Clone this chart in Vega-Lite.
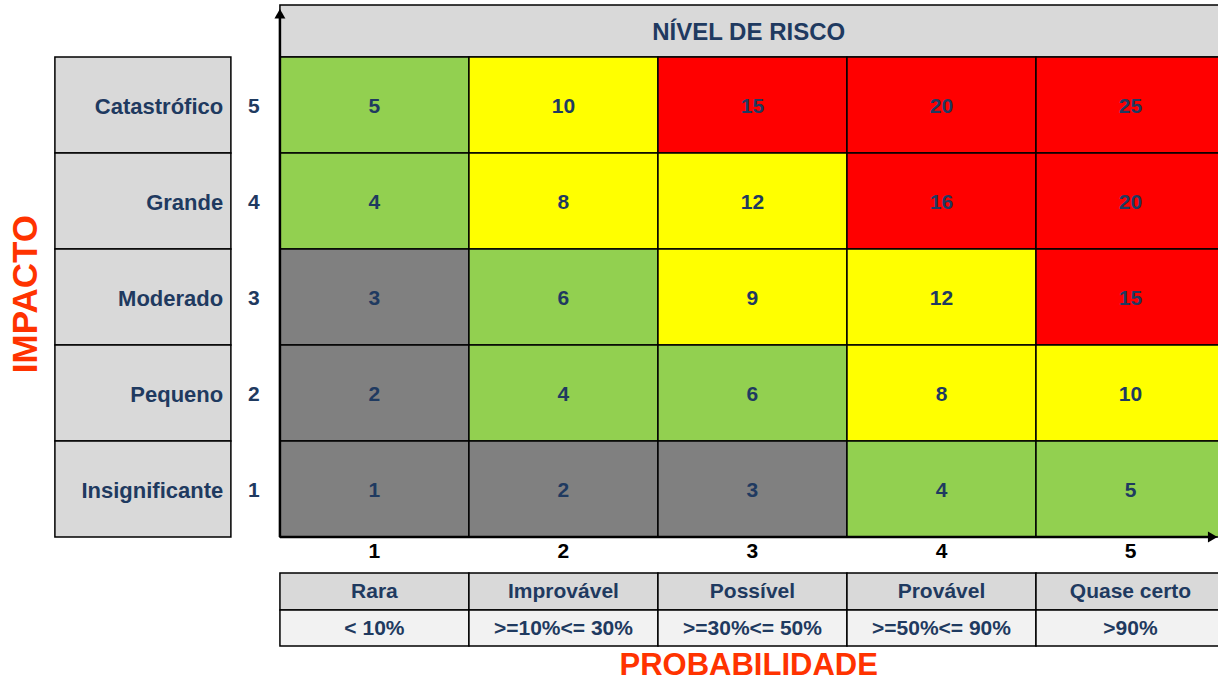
{
  "$schema": "https://vega.github.io/schema/vega-lite/v6.json",
  "width": 1218,
  "height": 683,
  "autosize": {"type": "none"},
  "padding": 0,
  "background": "white",
  "config": {"view": {"stroke": null}, "text": {"font": "Liberation Sans", "fontWeight": "bold"}},
  "datasets": {
    "cells": [
      {"prob": 1, "impact": 5, "value": 5, "nivel": "Baixo"},
      {"prob": 2, "impact": 5, "value": 10, "nivel": "Médio"},
      {"prob": 3, "impact": 5, "value": 15, "nivel": "Alto"},
      {"prob": 4, "impact": 5, "value": 20, "nivel": "Alto"},
      {"prob": 5, "impact": 5, "value": 25, "nivel": "Alto"},
      {"prob": 1, "impact": 4, "value": 4, "nivel": "Baixo"},
      {"prob": 2, "impact": 4, "value": 8, "nivel": "Médio"},
      {"prob": 3, "impact": 4, "value": 12, "nivel": "Médio"},
      {"prob": 4, "impact": 4, "value": 16, "nivel": "Alto"},
      {"prob": 5, "impact": 4, "value": 20, "nivel": "Alto"},
      {"prob": 1, "impact": 3, "value": 3, "nivel": "Muito baixo"},
      {"prob": 2, "impact": 3, "value": 6, "nivel": "Baixo"},
      {"prob": 3, "impact": 3, "value": 9, "nivel": "Médio"},
      {"prob": 4, "impact": 3, "value": 12, "nivel": "Médio"},
      {"prob": 5, "impact": 3, "value": 15, "nivel": "Alto"},
      {"prob": 1, "impact": 2, "value": 2, "nivel": "Muito baixo"},
      {"prob": 2, "impact": 2, "value": 4, "nivel": "Baixo"},
      {"prob": 3, "impact": 2, "value": 6, "nivel": "Baixo"},
      {"prob": 4, "impact": 2, "value": 8, "nivel": "Médio"},
      {"prob": 5, "impact": 2, "value": 10, "nivel": "Médio"},
      {"prob": 1, "impact": 1, "value": 1, "nivel": "Muito baixo"},
      {"prob": 2, "impact": 1, "value": 2, "nivel": "Muito baixo"},
      {"prob": 3, "impact": 1, "value": 3, "nivel": "Muito baixo"},
      {"prob": 4, "impact": 1, "value": 4, "nivel": "Baixo"},
      {"prob": 5, "impact": 1, "value": 5, "nivel": "Baixo"}
    ],
    "impactos": [
      {"impact": 5, "label": "Catastrófico"},
      {"impact": 4, "label": "Grande"},
      {"impact": 3, "label": "Moderado"},
      {"impact": 2, "label": "Pequeno"},
      {"impact": 1, "label": "Insignificante"}
    ],
    "probs": [
      {"prob": 1, "label": "Rara", "pct": "< 10%"},
      {"prob": 2, "label": "Improvável", "pct": ">=10%<= 30%"},
      {"prob": 3, "label": "Possível", "pct": ">=30%<= 50%"},
      {"prob": 4, "label": "Provável", "pct": ">=50%<= 90%"},
      {"prob": 5, "label": "Quase certo", "pct": ">90%"}
    ]
  },
  "resolve": {"scale": {"x": "shared", "y": "shared"}},
  "layer": [
    {
      "data": {"values": [{}]},
      "mark": {"type": "rect", "fill": "#D9D9D9", "stroke": "#000000", "strokeWidth": 1.5},
      "encoding": {
        "x": {"datum": 0.5, "type": "quantitative", "scale": {"domain": [-0.981, 5.463], "nice": false, "zero": false}, "axis": null},
        "x2": {"datum": 5.6},
        "y": {"datum": 5.5, "type": "quantitative", "scale": {"domain": [-1.021, 6.094], "nice": false, "zero": false}, "axis": null},
        "y2": {"datum": 6.042}
      }
    },
    {
      "data": {"values": [{}]},
      "mark": {"type": "text", "fontSize": 24, "color": "#1F3A60", "align": "center", "baseline": "middle", "dy": 1},
      "encoding": {
        "x": {"datum": 2.98, "type": "quantitative"},
        "y": {"datum": 5.765, "type": "quantitative"},
        "text": {"datum": "NÍVEL DE RISCO"}
      }
    },
    {
      "data": {"name": "cells"},
      "mark": {"type": "rect", "width": 189, "height": 96, "stroke": "#000000", "strokeWidth": 1.5},
      "encoding": {
        "x": {"field": "prob", "type": "quantitative"},
        "y": {"field": "impact", "type": "quantitative"},
        "fill": {"field": "nivel", "type": "nominal", "legend": null,
          "scale": {"domain": ["Muito baixo", "Baixo", "Médio", "Alto"], "range": ["#808080", "#92D050", "#FFFF00", "#FF0000"]}}
      }
    },
    {
      "data": {"name": "cells"},
      "mark": {"type": "text", "fontSize": 21, "color": "#1F3A60", "align": "center", "baseline": "middle", "dy": 2},
      "encoding": {
        "x": {"field": "prob", "type": "quantitative"},
        "y": {"field": "impact", "type": "quantitative"},
        "text": {"field": "value", "type": "quantitative"}
      }
    },
    {
      "data": {"name": "impactos"},
      "mark": {"type": "rect", "width": 176, "height": 96, "fill": "#D9D9D9", "stroke": "#000000", "strokeWidth": 1.5},
      "encoding": {
        "x": {"datum": -0.225, "type": "quantitative"},
        "y": {"field": "impact", "type": "quantitative"}
      }
    },
    {
      "data": {"name": "impactos"},
      "mark": {"type": "text", "fontSize": 22, "color": "#1F3A60", "align": "right", "baseline": "middle", "dy": 2},
      "encoding": {
        "x": {"datum": 0.2, "type": "quantitative"},
        "y": {"field": "impact", "type": "quantitative"},
        "text": {"field": "label", "type": "nominal"}
      }
    },
    {
      "data": {"name": "impactos"},
      "mark": {"type": "text", "fontSize": 21, "color": "#1F3A60", "align": "center", "baseline": "middle", "dy": 2},
      "encoding": {
        "x": {"datum": 0.3624, "type": "quantitative"},
        "y": {"field": "impact", "type": "quantitative"},
        "text": {"field": "impact", "type": "quantitative"}
      }
    },
    {
      "data": {"name": "probs"},
      "mark": {"type": "text", "fontSize": 21, "color": "#000000", "align": "center", "baseline": "middle", "dy": 1},
      "encoding": {
        "x": {"field": "prob", "type": "quantitative"},
        "y": {"datum": 0.354, "type": "quantitative"},
        "text": {"field": "prob", "type": "quantitative"}
      }
    },
    {
      "data": {"name": "probs"},
      "mark": {"type": "rect", "width": 189, "height": 37, "fill": "#D9D9D9", "stroke": "#000000", "strokeWidth": 1.5},
      "encoding": {
        "x": {"field": "prob", "type": "quantitative"},
        "y": {"datum": -0.0677, "type": "quantitative"}
      }
    },
    {
      "data": {"name": "probs"},
      "mark": {"type": "rect", "width": 189, "height": 36, "fill": "#F2F2F2", "stroke": "#000000", "strokeWidth": 1.5},
      "encoding": {
        "x": {"field": "prob", "type": "quantitative"},
        "y": {"datum": -0.448, "type": "quantitative"}
      }
    },
    {
      "data": {"name": "probs"},
      "mark": {"type": "text", "fontSize": 21, "color": "#1F3A60", "align": "center", "baseline": "middle", "dy": 1},
      "encoding": {
        "x": {"field": "prob", "type": "quantitative"},
        "y": {"datum": -0.0677, "type": "quantitative"},
        "text": {"field": "label", "type": "nominal"}
      }
    },
    {
      "data": {"name": "probs"},
      "mark": {"type": "text", "fontSize": 21, "color": "#1F3A60", "align": "center", "baseline": "middle", "dy": 1},
      "encoding": {
        "x": {"field": "prob", "type": "quantitative"},
        "y": {"datum": -0.448, "type": "quantitative"},
        "text": {"field": "pct", "type": "nominal"}
      }
    },
    {
      "data": {"values": [{}]},
      "mark": {"type": "rule", "color": "#000000", "strokeWidth": 2.5},
      "encoding": {
        "x": {"datum": 0.5, "type": "quantitative"},
        "y": {"datum": 0.5, "type": "quantitative"},
        "y2": {"datum": 5.96}
      }
    },
    {
      "data": {"values": [{}]},
      "mark": {"type": "rule", "color": "#000000", "strokeWidth": 2.5},
      "encoding": {
        "x": {"datum": 0.5, "type": "quantitative"},
        "x2": {"datum": 5.44},
        "y": {"datum": 0.5, "type": "quantitative"}
      }
    },
    {
      "data": {"values": [{}]},
      "mark": {"type": "point", "shape": "triangle-up", "filled": true, "color": "#000000", "size": 120, "opacity": 1},
      "encoding": {
        "x": {"datum": 0.5, "type": "quantitative"},
        "y": {"datum": 5.95, "type": "quantitative"}
      }
    },
    {
      "data": {"values": [{}]},
      "mark": {"type": "point", "shape": "triangle-right", "filled": true, "color": "#000000", "size": 120, "opacity": 1},
      "encoding": {
        "x": {"datum": 5.435, "type": "quantitative"},
        "y": {"datum": 0.5, "type": "quantitative"}
      }
    },
    {
      "data": {"values": [{}]},
      "mark": {"type": "text", "fontSize": 31, "color": "#FF3300", "align": "center", "baseline": "middle"},
      "encoding": {
        "x": {"datum": 2.98, "type": "quantitative"},
        "y": {"datum": -0.844, "type": "quantitative"},
        "text": {"datum": "PROBABILIDADE"}
      }
    },
    {
      "data": {"values": [{}]},
      "mark": {"type": "text", "fontSize": 35, "color": "#FF3300", "align": "center", "baseline": "middle", "angle": 270},
      "encoding": {
        "x": {"datum": -0.843, "type": "quantitative"},
        "y": {"datum": 3.03, "type": "quantitative"},
        "text": {"datum": "IMPACTO"}
      }
    }
  ]
}
